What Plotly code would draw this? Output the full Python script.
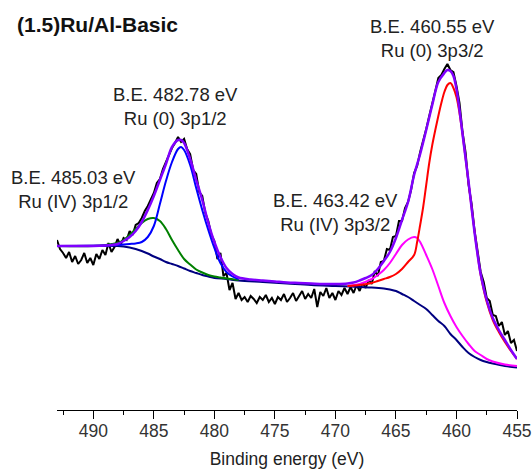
import plotly.graph_objects as go

# ---------------- data (binding energy in eV, intensity in arbitrary units) ----------------
raw_be = [493.00, 492.75, 492.50, 492.25, 492.00, 491.75, 491.50, 491.25, 491.00, 490.75,
          490.50, 490.25, 490.00, 489.75, 489.50, 489.25, 489.00, 488.75, 488.50, 488.25,
          488.00, 487.75, 487.50, 487.25, 487.00, 486.75, 486.50, 486.25, 486.00, 485.75,
          485.50, 485.25, 485.00, 484.75, 484.50, 484.25, 484.00, 483.75, 483.50, 483.25,
          483.00, 482.75, 482.50, 482.25, 482.00, 481.75, 481.50, 481.25, 481.00, 480.75,
          480.50, 480.25, 480.00, 479.75, 479.50, 479.25, 479.00, 478.75, 478.50, 478.25,
          478.00, 477.75, 477.50, 477.25, 477.00, 476.75, 476.50, 476.25, 476.00, 475.75,
          475.50, 475.25, 475.00, 474.75, 474.50, 474.25, 474.00, 473.75, 473.50, 473.25,
          473.00, 472.75, 472.50, 472.25, 472.00, 471.75, 471.50, 471.25, 471.00, 470.75,
          470.50, 470.25, 470.00, 469.75, 469.50, 469.25, 469.00, 468.75, 468.50, 468.25,
          468.00, 467.75, 467.50, 467.25, 467.00, 466.75, 466.50, 466.25, 466.00, 465.75,
          465.50, 465.25, 465.00, 464.75, 464.50, 464.25, 464.00, 463.75, 463.50, 463.25,
          463.00, 462.75, 462.50, 462.25, 462.00, 461.75, 461.50, 461.25, 461.00, 460.75,
          460.50, 460.25, 460.00, 459.75, 459.50, 459.25, 459.00, 458.75, 458.50, 458.25,
          458.00, 457.75, 457.50, 457.25, 457.00, 456.75, 456.50, 456.25, 456.00, 455.75,
          455.50, 455.25, 455.00]
raw_counts = [170, 161, 157, 152, 158, 148, 154, 146, 150, 157,
              147, 152, 145, 156, 151, 160, 155, 167, 158, 163,
              171, 165, 172, 170, 179, 175, 185, 187, 192, 199,
              204, 211, 217, 227, 231, 241, 248, 255, 262, 267,
              273, 268, 271, 261, 256, 240, 236, 218, 214, 197,
              189, 175, 169, 151, 157, 134, 137, 120, 127, 111,
              117, 110, 113, 108, 114, 111, 107, 113, 110, 115,
              108, 112, 106, 113, 110, 116, 108, 112, 117, 109,
              114, 119, 111, 116, 112, 121, 103, 118, 114, 122,
              112, 117, 110, 119, 115, 122, 116, 123, 117, 125,
              119, 127, 122, 130, 126, 139, 134, 148, 149, 161,
              160, 173, 174, 189, 189, 202, 208, 220, 237, 244,
              258, 269, 281, 294, 308, 319, 332, 335, 341, 346,
              340, 338, 324, 307, 278, 258, 225, 206, 179, 159,
              138, 128, 112, 109, 95, 94, 84, 88, 75, 79,
              67, 70, 59]

bg_be = [493.0, 488.0, 487.5, 487.0, 486.5, 486.0, 485.5, 485.0, 484.5, 484.0, 483.5, 483.0,
         482.5, 482.0, 481.5, 481.0, 480.5, 480.0, 479.0, 478.0, 476.0, 474.0, 472.0, 470.0,
         468.0, 467.0, 466.0, 465.5, 465.0, 464.5, 464.0, 463.5, 463.0, 462.5, 462.0, 461.5,
         461.0, 460.5, 460.0, 459.5, 459.0, 458.5, 458.0, 457.5, 457.0, 456.0, 455.0]
bg_counts = [164, 164, 163.5, 162.5, 161, 159, 156.5, 153.5, 151, 148, 146, 144,
             141.5, 139, 137, 135, 133.5, 132, 131, 129.5, 128, 126.5, 125, 124,
             123, 122.5, 121.5, 120.5, 119, 116, 113, 109, 105, 101, 95, 89,
             84, 76, 70, 63, 57, 53, 50, 48, 46.5, 44, 42.5]

g1_be = [493.0, 490.0, 489.0, 488.5, 488.0, 487.5, 487.0, 486.5, 486.0, 485.5, 485.0, 484.5,
         484.0, 483.5, 483.0, 482.5, 482.0, 481.5, 481.0, 480.5, 480.0, 479.5, 479.0, 478.0]
g1_counts = [164, 164, 165, 166, 167, 170, 175, 181, 187, 191, 192, 189,
             181, 170, 160, 151, 145.5, 140.5, 137.5, 135, 133.5, 132.5, 131.5, 130]

b1_be = [493.0, 489.0, 488.0, 487.5, 487.0, 486.5, 486.0, 485.5, 485.0, 484.5, 484.0, 483.5,
         483.0, 482.75, 482.5, 482.0, 481.5, 481.0, 480.5, 480.0, 479.5, 479.0, 478.5, 478.0]
b1_counts = [164, 164.5, 165, 165.5, 166, 166.5, 168, 173, 184, 206, 229, 248,
             261, 263, 260, 245, 222, 200, 180, 162, 147, 138, 133.5, 131]

m1_be = [469.0, 468.0, 467.0, 466.5, 466.0, 465.5, 465.0, 464.5, 464.0, 463.5, 463.25, 463.0,
         462.5, 462.0, 461.5, 461.0, 460.5, 460.0, 459.5, 459.0, 458.5, 458.0, 457.5, 457.0,
         456.0, 455.0]
m1_counts = [124, 126, 131, 135, 140, 147, 156, 165, 170.5, 173, 172, 168,
             155, 141, 124, 107, 94, 83, 74, 66, 59, 55, 51, 48.5,
             45.5, 44]

r1_be = [469.0, 468.0, 467.0, 466.5, 466.0, 465.5, 465.0, 464.5, 464.0, 463.5, 463.25, 463.0,
         462.75, 462.5, 462.25, 462.0, 461.75, 461.5, 461.25, 461.0, 460.75, 460.5, 460.25, 460.0,
         459.75, 459.5, 459.25, 459.0, 458.75, 458.5, 458.25, 458.0, 457.5, 457.0, 456.5, 456.0,
         455.5, 455.0]
r1_counts = [124, 125, 127, 129, 131, 133, 136, 141, 148, 155, 168, 185,
             203, 225, 247, 265, 280, 294, 307, 318, 325, 327, 322, 313,
             297, 276, 252, 227, 202, 178, 155, 135, 108, 90, 78, 68,
             59, 51]

env_be = [493.0, 490.0, 489.0, 488.5, 488.0, 487.5, 487.0, 486.5, 486.0, 485.5, 485.0, 484.5,
          484.0, 483.5, 483.0, 482.75, 482.5, 482.0, 481.5, 481.0, 480.5, 480.0, 479.5, 479.0,
          478.5, 478.0, 477.0, 476.0, 475.0, 474.0, 473.0, 472.0, 471.0, 470.0, 469.0, 468.5,
          468.0, 467.5, 467.0, 466.5, 466.0, 465.5, 465.0, 464.5, 464.0, 463.5, 463.0, 462.5,
          462.0, 461.5, 461.0, 460.75, 460.5, 460.25, 460.0, 459.75, 459.5, 459.25, 459.0, 458.75,
          458.5, 458.25, 458.0, 457.5, 457.0, 456.5, 456.0, 455.5, 455.0]
env_counts = [164, 164, 164.5, 165, 166, 169, 173, 179, 188, 200, 214, 230,
              246, 263, 270, 270, 267, 251, 230, 210, 187, 168, 153, 142,
              136, 132.5, 130.5, 129.5, 128.5, 127.5, 127, 126.5, 126, 126, 126.5, 127.5,
              129.5, 132, 135, 141, 149, 158, 172, 190, 208, 235, 256, 280,
              305, 328, 337, 340, 339, 334, 321, 300, 276, 252, 228, 202,
              177, 155, 136, 110, 92, 80, 70, 60, 51]

tick_vals = [490, 485, 480, 475, 470, 465, 460, 455]

labels = [
    ("B.E. 482.78 eV<br>Ru (0) 3p1/2", 483.25, 304),
    ("B.E. 485.03 eV<br>Ru (IV) 3p1/2", 491.64, 221),
    ("B.E. 463.42 eV<br>Ru (IV) 3p3/2", 469.98, 197.5),
    ("B.E. 460.55 eV<br>Ru (0) 3p3/2", 461.96, 372),
]

FONT = "Liberation Sans, Arial, sans-serif"

fig = go.Figure()
fig.add_trace(go.Scatter(x=raw_be, y=raw_counts, mode="lines",
                         line=dict(color="#000000", width=2), name="raw"))
fig.add_trace(go.Scatter(x=bg_be, y=bg_counts, mode="lines", line_shape="spline",
                         line=dict(color="#000080", width=2), name="background"))
fig.add_trace(go.Scatter(x=g1_be, y=g1_counts, mode="lines", line_shape="spline",
                         line=dict(color="#008000", width=2), name="Ru(IV) 3p1/2"))
fig.add_trace(go.Scatter(x=b1_be, y=b1_counts, mode="lines", line_shape="spline",
                         line=dict(color="#0000ff", width=2), name="Ru(0) 3p1/2"))
fig.add_trace(go.Scatter(x=m1_be, y=m1_counts, mode="lines", line_shape="spline",
                         line=dict(color="#ff00ff", width=2), name="Ru(IV) 3p3/2"))
fig.add_trace(go.Scatter(x=r1_be, y=r1_counts, mode="lines", line_shape="spline",
                         line=dict(color="#ff0000", width=2), name="Ru(0) 3p3/2"))
fig.add_trace(go.Scatter(x=env_be, y=env_counts, mode="lines", line_shape="spline",
                         line=dict(color="#8000ff", width=2.5), name="envelope"))

for text, xv, yv in labels:
    fig.add_annotation(x=xv, y=yv, xref="x", yref="y", text=text, showarrow=False,
                       xanchor="center", yanchor="middle",
                       font=dict(family=FONT, size=18.5, color="#222222"))

fig.update_layout(
    width=532, height=471,
    margin=dict(l=57, r=15, t=0, b=61),
    paper_bgcolor="white", plot_bgcolor="white",
    showlegend=False,
    title=dict(text="<b>(1.5)Ru/Al-Basic</b>", x=17 / 532, xanchor="left",
               y=1 - 25 / 471, yanchor="middle", xref="container", yref="container",
               font=dict(family=FONT, size=21, color="#111111")),
    xaxis=dict(range=[493, 455], tickvals=tick_vals, showline=True, linecolor="black",
               linewidth=1, ticks="outside", ticklen=8, tickwidth=1, tickcolor="black",
               minor=dict(dtick=2.5, tick0=455, ticks="outside", ticklen=4, tickwidth=1,
                          tickcolor="black"),
               showgrid=False, zeroline=False, mirror=False,
               ticklabelstandoff=-3,
               tickfont=dict(family=FONT, size=17.5, color="#333333"),
               title=dict(text="Binding energy (eV)", standoff=12,
                          font=dict(family=FONT, size=17.5, color="#222222")),
               automargin=False),
    yaxis=dict(range=[0, 410], visible=False, fixedrange=True),
)

fig.write_html("out.html", config={"displayModeBar": False},
               post_script="document.body.style.margin='0';document.body.style.overflow='hidden';")
